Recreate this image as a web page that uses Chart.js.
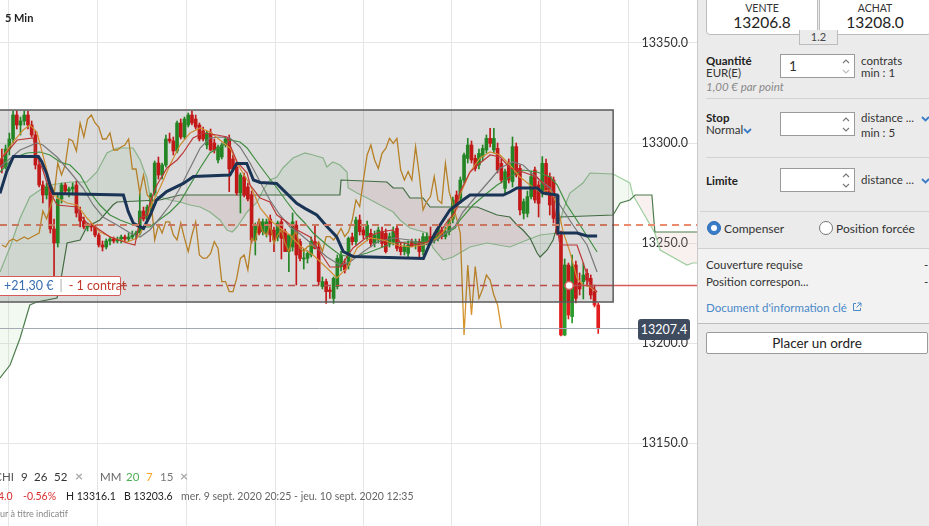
<!DOCTYPE html>
<html>
<head>
<meta charset="utf-8">
<script src="https://cdn.jsdelivr.net/npm/chart.js@4.4.1/dist/chart.umd.min.js"></script>
<style>
  html, body { margin: 0; padding: 0; width: 929px; height: 526px; overflow: hidden; background: #fff;
    font-family: Lato, "Open Sans", "Liberation Sans", sans-serif; color: #333; }
  .abs { position: absolute; white-space: nowrap; }
  #chartWrap { position: absolute; left: 0; top: 0; width: 697px; height: 526px; }
  #tf { left: 5px; top: 11px; font-size: 11px; font-weight: bold; color: #222; }
  .leg { font-size: 11.5px; line-height: 14px; }
  .row2 { font-size: 10.5px; line-height: 13px; top: 490px; }
  .x { color: #aaa; font-weight: bold; font-size: 14px; }
  #pnl { left: 697px; top: 0; width: 232px; height: 526px; background: #ebebeb; border-left: 1px solid #c9c9c9; box-sizing: border-box; font-size: 11.5px; color: #333; }
  .quote { top: -2px; width: 112px; height: 37px; background: #fff; border: 1px solid #bcbcbc; border-radius: 0 0 4px 4px; box-sizing: border-box; text-align: center; }
  .quote .t { font-size: 10.5px; margin-top: 3px; line-height: 12px; color: #333; }
  .quote .v { font-size: 15.5px; line-height: 17px; color: #222; }
  .inp { width: 75px; height: 24px; background: #fff; border: 1px solid #9a9a9a; box-sizing: border-box; font-size: 13.5px; line-height: 22px; padding-left: 8px; }
  .spin { position: absolute; right: 4px; top: 3px; }
  .sep { height: 1px; background: #d2d2d2; }
  .b { font-weight: bold; color: #222; }
  .radio { width: 14px; height: 14px; border-radius: 50%; box-sizing: border-box; }
  #lbl1 { left: -3px; top: 276px; height: 20px; width: 124px; background: #fff; border: 1px solid #d65a5a; border-radius: 2px; box-sizing: border-box; font-size: 12.5px; line-height: 18px; }
  #lbl2 { left: 638px; top: 319px; width: 52px; height: 21px; background: #3f4c5f; border-radius: 3px; color: #fff; font-size: 12.5px; line-height: 21px; text-align: center; }
</style>
</head>
<body>
<div id="chartWrap"><canvas id="c"></canvas></div>
<div id="tf" class="abs">5 Min</div>

<div id="lbl1" class="abs"><span style="color:#3a6db0;margin-left:6px">+21,30 €</span><span style="color:#aaa;margin:0 6px">|</span><span style="color:#c0392b">- 1 contrat</span></div>
<div id="lbl2" class="abs">13207.4</div>

<div class="abs leg" style="left:-40px;width:54px;text-align:right;top:470px;color:#555">CHI</div>
<div class="abs leg" style="left:21px;top:470px">9</div>
<div class="abs leg" style="left:34px;top:470px">26</div>
<div class="abs leg" style="left:54px;top:470px">52</div>
<div class="abs leg x" style="left:75px;top:469px">×</div>
<div class="abs leg" style="left:100px;top:470px;color:#666">MM</div>
<div class="abs leg" style="left:126px;top:470px;color:#4caf50">20</div>
<div class="abs leg" style="left:146px;top:470px;color:#f5a623">7</div>
<div class="abs leg" style="left:160px;top:470px;color:#777">15</div>
<div class="abs leg x" style="left:180px;top:469px">×</div>
<div class="abs row2" style="left:-2px;color:#d83030">4.0</div>
<div class="abs row2" style="left:23px;color:#d83030">-0.56%</div>
<div class="abs row2" style="left:66px;color:#222">H 13316.1</div>
<div class="abs row2" style="left:124px;color:#222">B 13203.6</div>
<div class="abs row2" style="left:181px;color:#666">mer. 9 sept. 2020 20:25 - jeu. 10 sept. 2020 12:35</div>
<div class="abs" style="left:0;top:508px;font-size:9px;color:#888">ur à titre indicatif</div>

<div id="pnl" class="abs">
  <div class="abs quote" style="left:8px"><div class="t">VENTE</div><div class="v">13206.8</div></div>
  <div class="abs quote" style="left:121px"><div class="t">ACHAT</div><div class="v">13208.0</div></div>
  <div class="abs" style="left:101px;top:30px;width:39px;height:15px;background:#ebebeb;border:1px solid #bcbcbc;border-top:none;box-sizing:border-box;text-align:center;font-size:11px;line-height:14px;color:#444">1.2</div>

  <div class="abs b" style="left:8px;top:54px">Quantité</div>
  <div class="abs" style="left:8px;top:66px">EUR(E)</div>
  <div class="abs" style="left:8px;top:80px;font-style:italic;color:#888">1,00 € par point</div>
  <div class="abs inp" style="left:82px;top:54px">1
    <svg class="spin" width="8" height="17"><path d="M1 5l3-3 3 3" stroke="#777" stroke-width="1.1" fill="none"/><path d="M1 12l3 3 3-3" stroke="#bbb" stroke-width="1.1" fill="none"/></svg></div>
  <div class="abs" style="left:163px;top:54px">contrats</div>
  <div class="abs" style="left:163px;top:66px">min : 1</div>
  <div class="abs sep" style="left:8px;top:98px;width:224px"></div>

  <div class="abs b" style="left:8px;top:111px">Stop</div>
  <div class="abs" style="left:8px;top:123px">Normal <svg width="9" height="6" style="margin-left:-3px"><path d="M1 1l3.5 3.5L8 1" stroke="#3a7cc7" stroke-width="1.8" fill="none"/></svg></div>
  <div class="abs inp" style="left:82px;top:112px">
    <svg class="spin" width="8" height="17"><path d="M1 5l3-3 3 3" stroke="#777" stroke-width="1.1" fill="none"/><path d="M1 12l3 3 3-3" stroke="#777" stroke-width="1.1" fill="none"/></svg></div>
  <div class="abs" style="left:163px;top:111px">distance ...</div>
  <svg class="abs" style="left:223px;top:116px" width="9" height="6"><path d="M1 1l3.5 3.5L8 1" stroke="#3a7cc7" stroke-width="1.8" fill="none"/></svg>
  <div class="abs" style="left:163px;top:126px">min : 5</div>
  <div class="abs sep" style="left:8px;top:157px;width:224px"></div>

  <div class="abs b" style="left:8px;top:174px">Limite</div>
  <div class="abs inp" style="left:82px;top:168px">
    <svg class="spin" width="8" height="17"><path d="M1 5l3-3 3 3" stroke="#777" stroke-width="1.1" fill="none"/><path d="M1 12l3 3 3-3" stroke="#777" stroke-width="1.1" fill="none"/></svg></div>
  <div class="abs" style="left:163px;top:173px">distance ...</div>
  <svg class="abs" style="left:223px;top:178px" width="9" height="6"><path d="M1 1l3.5 3.5L8 1" stroke="#3a7cc7" stroke-width="1.8" fill="none"/></svg>
  <div class="abs sep" style="left:2px;top:211px;width:230px"></div>

  <div class="abs radio" style="left:9px;top:221px;background:#3a7cc7;border:1px solid #2f6db5"><div style="width:6px;height:6px;border-radius:50%;background:#fff;margin:3px"></div></div>
  <div class="abs" style="left:26px;top:221px;font-size:12px">Compenser</div>
  <div class="abs radio" style="left:121px;top:221px;background:#fff;border:1px solid #777"></div>
  <div class="abs" style="left:138px;top:221px;font-size:12px">Position forcée</div>

  <div class="abs" style="left:0;top:248px;width:232px;height:74px;background:#f2f2f2;border-top:1px solid #cfcfcf;border-bottom:1px solid #bdbdbd"></div>
  <div class="abs" style="left:8px;top:258px">Couverture requise</div>
  <div class="abs" style="left:226px;top:258px">-</div>
  <div class="abs" style="left:8px;top:275px">Position correspon...</div>
  <div class="abs" style="left:226px;top:275px">-</div>
  <div class="abs" style="left:8px;top:301px;color:#4a89c9">Document d'information clé
    <svg width="10" height="10" style="margin-left:2px"><path d="M4 1.5H1.5v7h7V6" stroke="#4a89c9" stroke-width="1" fill="none"/><path d="M5.5 1H9v3.5M9 1L4.5 5.5" stroke="#4a89c9" stroke-width="1" fill="none"/></svg></div>

  <div class="abs" style="left:8px;top:332px;width:222px;height:22px;background:#fff;border:1px solid #9a9a9a;border-radius:2px;box-sizing:border-box;text-align:center;font-size:13.5px;line-height:20px;color:#222">Placer un ordre</div>
</div>

<script>
// candles, index = 5 min bar
const opens = [13292,13288,13297,13302,13314,13309,13311,13314,13309,13304,13289,13279,13274,13278,13257,13250,13272,13279,13276,13277,
  13279,13265,13261,13258,13259,13258,13254,13249,13248,13251,13252,13251,13252,13253,13252,13253,13254,13255,13266,13262,
  13268,13275,13290,13284,13289,13302,13301,13296,13310,13303,13309,13314,13312,13309,13306,13299,13305,13300,13291.5,13293,
  13299,13302,13292,13288,13275,13283,13278,13274,13251.5,13260.6,13255.7,13255,13262,13256.5,13253,13260.6,13255.7,13245.7,13248,13259,
  13250.7,13242,13242.3,13244,13250.7,13248,13228.2,13230.7,13226.5,13222.3,13228.2,13238.2,13239.8,13239,13253,13250.7,13261.5,13256.5,13253,13254.8,
  13249.8,13251.5,13255.7,13254.8,13249.8,13250.7,13257.3,13248,13245.7,13244.8,13250.7,13249,13250.7,13245.7,13250.7,13253.2,13251.5,13252.3,13256.5,13253.2,
  13255.7,13262,13274,13272.3,13281.5,13292.3,13299,13292.3,13289,13293.2,13296.5,13302.3,13296.5,13297.3,13289.8,13277.3,13289.8,13280.7,13298.2,13287.3,
  13264.8,13264.8,13273.2,13286.5,13279,13274.8,13289.8,13283.2,13281.5,13262.3,13254,13204,13239,13213.2,13239,13230,13230.7,13234.8,13232.3,13225.7,
  13219];
const highs = [13297,13299,13305,13316,13316,13313,13316,13316,13311,13306,13291,13281,13280,13279,13262,13274,13280,13280,13278,13280,
  13281,13268,13263,13260,13260,13259,13255,13251,13252,13253,13253,13253,13254,13254,13255,13256,13256,13275,13268,13269,
  13275,13291,13293,13290,13304,13305,13303,13311,13312,13313,13315,13316,13314,13310,13308,13306,13307,13302,13299,13300,
  13303,13304,13294,13290,13285,13285,13280,13276,13260,13262,13262,13262,13264,13258,13261,13262,13257,13254,13265,13261,
  13252,13247,13246,13253,13259,13250,13233,13232,13228,13233,13244,13246,13242,13253,13255,13263,13264,13258,13261,13257,
  13256,13258,13258,13257,13255,13258,13259,13250,13250,13251,13252,13252,13252,13255,13255,13258,13255,13258,13258,13258,
  13262,13273,13276,13283,13295,13302.3,13301,13294,13297,13299,13304,13307.3,13307.3,13300,13292,13287,13292,13303,13300,13289,
  13272,13276,13286,13288,13281,13293.2,13292,13285,13283,13264,13256,13242,13240,13244,13241,13235,13240,13237,13234,13229,
  13220];
const lows = [13285,13287,13294,13300,13307,13304,13309,13307,13303,13287,13278,13270,13272,13255,13226,13248,13270,13275,13273,13274,
  13263,13258,13257,13256,13256,13253,13248,13246,13247,13249,13250,13250,13250,13251,13251,13252,13252,13254,13261,13261,
  13264,13274,13282,13282,13288,13300,13294,13295,13302,13302,13308,13309,13307,13301,13301,13297,13296,13295,13290,13292,
  13298,13275.7,13286,13274,13265,13273,13271,13250,13244,13254,13254,13253,13250.6,13245.7,13251,13242,13245.7,13235.7,13246,13229,
  13241,13237,13240,13243,13247,13229,13227,13219.8,13222.3,13219.8,13227,13236,13235,13237,13249,13249,13254,13252,13251,13248,
  13248,13250,13248,13245,13248,13249,13246,13244,13244,13243,13248,13247,13242,13244,13249,13250,13250,13251,13252,13252,
  13254,13260,13267,13270,13280,13290,13290,13286,13287,13291,13295,13298,13295,13285,13280,13275,13280,13278,13283,13264,
  13262,13263,13272,13270,13263,13273,13274,13264,13260,13254,13203.6,13203.6,13212,13210,13220,13224,13222,13229,13222,13218,
  13204.8];
const closes = [13288,13297,13302,13314,13309,13311,13314,13309,13304,13289,13279,13274,13278,13257,13250,13272,13279,13276,13277,13278,
  13265,13261,13258,13259,13258,13254,13249,13248,13251,13252,13251,13252,13253,13252,13253,13254,13255,13266,13262,13268,
  13274,13290,13284,13289,13302,13301,13296,13310,13303,13312,13314,13310,13308,13302,13302,13305,13296.5,13296.5,13298,13299,
  13302,13287,13287,13275,13284,13274,13272,13251.5,13259,13255,13260.6,13260.6,13254,13251.5,13260,13252.3,13245.7,13254,13260.6,13244,
  13242.3,13242.5,13244.8,13250.7,13247.3,13230.7,13230.7,13225.7,13225.7,13232.3,13242.3,13244,13236.5,13252.3,13250.7,13261.5,13255.7,13254,13259,13249.8,
  13254,13256.5,13249.8,13245.7,13253.2,13255.7,13247.3,13245.7,13248.2,13249,13248.2,13250.7,13245.7,13253.2,13253.2,13251.5,13254,13257.3,13253.2,13255.7,
  13261.5,13271.5,13268.2,13281.5,13294,13299,13291.5,13287.3,13294.8,13297.3,13302.3,13299.8,13302.3,13286.5,13281.5,13285.7,13281.5,13298.2,13284,13266.5,
  13270.7,13273.2,13283.2,13271.5,13269.8,13289.8,13275.7,13269,13262.3,13254.8,13204,13239,13214,13238.2,13222.3,13227,13234,13231.5,13224,13219,
  13207.4];

// indicator lines: [bar index, price]
const tenkan = [[-0.5,13291.5],[1.4,13295.5],[4.1,13301.5],[8.4,13302.5],[9.4,13293],[10.8,13287.5],[12.9,13275.5],[14.8,13269],[20.2,13268],[21,13264],
  [22.8,13260],[25.5,13257.5],[29,13253],[33.6,13250],[35.7,13249],[37.1,13262.5],[38.9,13264],[39.7,13270],[41.6,13279],[44.3,13287.5],
  [47,13291.5],[48.6,13295],[51.3,13302.5],[54,13305],[57.7,13304],[60.4,13303],[61.2,13299],[63.1,13290.5],[65.8,13285],[66.6,13279],
  [69.3,13272.5],[71.9,13270.5],[73.8,13264],[76.5,13260.5],[79.2,13256.5],[82.7,13253],[88,13238],[90.7,13238],[94.2,13247.5],[98,13253],
  [101.5,13255.5],[105,13256.5],[106.8,13250.5],[110.3,13249],[114.1,13250.5],[117.6,13255.5],[119.4,13260.5],[121.6,13265.5],[122.9,13275.5],[125.6,13285.5],
  [128.3,13290],[131,13294],[133.7,13293],[136.3,13287.5],[139.8,13285.5],[143.6,13283],[146.3,13277.5],[147.9,13272.5],[149.7,13249],[154.3,13249],
  [155.9,13240.5],[157.8,13229],[159.7,13225.5]];
const kijun = [[-0.5,13274.8],[1.3,13285.7],[3.1,13293.2],[9.8,13293.2],[10.7,13290.7],[12,13284.8],[12.9,13279],[13.8,13274.8],[32.6,13274],[33.9,13265.7],
  [35.3,13259.8],[38,13257.3],[39.8,13264],[41.5,13271.5],[44.2,13275.7],[48.7,13279.8],[51.4,13283.2],[61.2,13284],[63,13289.8],[65.7,13289.8],
  [67.5,13281.5],[69.3,13280.3],[73.7,13279.8],[76.4,13274.8],[79.1,13269.8],[81.3,13267.3],[84.5,13264],[87.2,13258.2],[89.8,13253.2],[91.6,13245.7],
  [94.3,13243.2],[113.1,13242.3],[114.9,13250],[116.7,13256.5],[120.2,13266.5],[123.7,13271.5],[125.6,13274],[134.5,13274],[136.3,13275.5],[138.2,13277.5],
  [143.6,13277.5],[145.2,13275],[149,13274],[149.2,13255],[154.3,13255],[157,13253.5],[159.7,13253.5]];
const senkouA = [[-0.5,13235.5],[2.2,13248],[4.9,13262.5],[7.5,13273],[11,13277.5],[12.9,13279],[18.3,13280.5],[22.8,13280.5],[25.5,13285.5],[28.2,13295],
  [30.9,13297.5],[35.2,13297.5],[37.1,13291.5],[38.9,13282.5],[39.7,13274],[42.4,13273],[45.1,13271.5],[47.8,13270.5],[50.5,13269],[53.2,13268],
  [55.8,13265.5],[58.5,13261.5],[60.4,13256.5],[61.8,13255.5],[63.1,13258],[65.8,13265.5],[68.5,13270.5],[70.1,13276.5],[71.9,13281.5],[73.8,13283],
  [75.4,13287.5],[78.1,13292.5],[81.3,13295],[83.5,13294],[86.2,13292.5],[87.2,13288],[88.8,13290.5],[90.7,13289],[92.6,13285.5],[92.9,13277.5],
  [95.3,13275],[98,13272.5],[101.5,13269],[105,13265.5],[106.8,13261.5],[109.5,13257.5],[114.1,13255],[115.7,13247.5],[118.4,13241.5],[121,13243],
  [125.6,13248],[130.2,13250],[136.3,13248],[140.9,13251.5],[144.4,13254],[149,13255],[150.6,13266.5],[152.4,13275],[155.9,13280],[157.8,13285],
  [164,13284.5],[168.5,13280],[169.3,13274],[175.2,13255],[176.6,13246.5],[183.8,13239],[185.4,13240],[186.5,13240]];
const senkouB = [[-0.5,13182.5],[2.2,13189],[4.9,13202.5],[7.5,13219],[9.4,13220.5],[14.8,13222.5],[15.6,13229],[17.5,13250],[21,13251.5],[22.8,13258],
  [26.3,13261.5],[29.8,13269],[30.9,13270.5],[42.4,13271.5],[47.8,13274],[90.7,13274],[91,13281.5],[103.3,13280.5],[105,13277.5],[107.6,13277.5],
  [109.5,13272.5],[113,13272.5],[114.9,13268],[127.5,13268],[132.9,13264],[136.3,13263],[138.2,13259],[139.8,13256.5],[141.7,13252.5],[143.6,13245],
  [144.4,13243],[146.3,13246.5],[147.9,13251.5],[149.7,13263],[164,13264],[165.9,13270],[168.5,13271.5],[169.9,13274],[174.4,13274],[175.2,13255.5],
  [186.5,13255.5]];
const mm7 = [[-0.5,13291.5],[3,13300.5],[5.7,13306.5],[7.5,13309],[9.4,13305.5],[11,13294],[12.9,13280.5],[14.8,13272.5],[17.5,13270],[20.2,13269],
  [22.8,13262.5],[26.3,13255.5],[29.8,13252.5],[33.6,13250.5],[36.3,13252.5],[38.9,13260.5],[39.7,13267.5],[42.4,13277.5],[45.1,13289],[47.8,13299],
  [50.5,13305],[53.2,13307.5],[55.8,13305.5],[58.5,13301.5],[61.2,13297.5],[63.9,13287.5],[66.6,13279],[69.3,13267.5],[71.9,13261.5],[74.6,13257.5],
  [77.3,13254],[80,13248.5],[83.5,13244],[87.2,13237.5],[89.9,13232.5],[92.6,13237.5],[95.3,13247.5],[98.8,13252.5],[102.3,13251.5],[106,13249],
  [109.5,13248],[113,13249],[116.8,13252.5],[119.4,13257.5],[121.6,13265],[122.9,13274],[125.6,13285.5],[128.3,13292.5],[131,13295.5],[133.7,13294],
  [136.3,13289],[139,13283],[141.7,13279],[144.4,13275.5],[147.1,13276.5],[149,13269],[150.6,13255.5],[152.4,13245.5],[154.3,13232.5],[155.9,13229],
  [157.8,13228],[159.7,13225.5]];
const mm15 = [[-0.5,13288],[4.9,13296.5],[9.4,13300],[11,13299],[14.8,13293],[18.3,13285.5],[21.8,13277.5],[24.5,13269],[27.1,13263],[30.9,13259],
  [34.4,13255],[37.1,13253],[39.7,13256.5],[42.4,13262.5],[45.1,13269],[47.8,13277.5],[50.5,13287.5],[53.2,13297.5],[55.8,13302.5],[58.5,13303],
  [61.2,13302.5],[63.9,13298],[66.6,13290],[69.3,13280.5],[71.9,13271.5],[74.6,13264],[77.3,13258],[80,13254.5],[83.5,13249],[87.2,13243],
  [90.7,13239],[93.4,13240.5],[96.9,13245.5],[100.7,13250.5],[105,13252.5],[109.5,13251.5],[113,13249],[115.7,13250.5],[118.4,13254],[121.6,13258.5],
  [123.7,13265.5],[127.5,13274],[131,13281.5],[133.7,13287.5],[137.1,13290.5],[139.8,13289],[143.6,13282.5],[147.1,13277.5],[149.7,13269],[153.2,13259],
  [157,13249],[159.7,13235.5]];
const mm20 = [[-0.5,13285.5],[3,13292.5],[6.7,13295],[10.2,13295.5],[12.9,13294],[15.6,13290.5],[18.3,13289],[21,13284],[23.6,13275.5],[26.3,13269],
  [29,13264],[31.7,13261.5],[35.2,13259],[37.9,13258],[39.7,13258],[45.1,13265.5],[47.8,13270.5],[50.5,13279],[53.2,13287.5],[55.8,13295],
  [58.5,13298],[61.2,13301.5],[63.9,13300.5],[65.8,13297.5],[68.5,13290.5],[71.1,13284],[73.8,13277.5],[76.5,13270.5],[79.2,13264],[81.3,13260],
  [83.5,13255],[87.2,13249],[90.7,13244],[94.2,13243],[98,13245],[101.5,13247.5],[105,13250],[108.7,13250.5],[112.2,13250.5],[115.7,13251.5],
  [118.4,13254],[121.6,13257.5],[122.9,13261.5],[126.4,13269],[130.2,13275],[132.9,13279],[136.3,13283],[139.8,13286.5],[143.6,13285.5],[147.1,13283],
  [149,13279],[151.6,13269],[155.1,13259],[159.7,13245.5]];
const chikouShift = 26;

// axis and levels
const xRange = [-0.5, 186.5];
const yRange = [13108.5, 13371.5];
const yTicks = [13150, 13200, 13250, 13300, 13350];
const hourMarks = [13.7, 37.6, 61.5, 85.1, 108.7, 132.6, 156.2, 179.8];
const rangeBox = [-2, 164, 13316.5, 13220.5];
const stopLevel = 13259;
const entryLevel = 13228.7;
const entryBar = 152.2;
const lastPrice = 13207.4;

const upColor = '#2b9b2b', downColor = '#e21d1d';
const candleColors = closes.map((c, i) => c >= opens[i] ? upColor : downColor);
const pts = arr => arr.map(p => ({x: p[0], y: p[1]}));
const lineDs = (label, arr, color, width, order, extra) => Object.assign({
  type: 'line', label, data: pts(arr), borderColor: color, borderWidth: width,
  pointRadius: 0, tension: 0, fill: false, order
}, extra || {});

const overlay = {
  id: 'overlay',
  afterDatasetsDraw(chart) {
    const {ctx, chartArea: a, scales: {x, y}} = chart;
    ctx.save();
    // stop level
    let py = y.getPixelForValue(stopLevel);
    ctx.setLineDash([7, 5]);
    ctx.strokeStyle = '#ea8b6e';
    ctx.lineWidth = 2;
    ctx.beginPath(); ctx.moveTo(a.left, py); ctx.lineTo(a.right, py); ctx.stroke();
    // entry level
    const ey = y.getPixelForValue(entryLevel);
    const ex = x.getPixelForValue(entryBar);
    ctx.strokeStyle = '#d65a5a';
    ctx.lineWidth = 1.5;
    ctx.beginPath(); ctx.moveTo(a.left, ey); ctx.lineTo(ex, ey); ctx.stroke();
    ctx.setLineDash([]);
    ctx.beginPath(); ctx.moveTo(ex, ey); ctx.lineTo(a.right, ey); ctx.stroke();
    // last price
    py = Math.round(y.getPixelForValue(lastPrice)) + 0.5;
    ctx.strokeStyle = '#a2aab4';
    ctx.lineWidth = 1;
    ctx.beginPath(); ctx.moveTo(a.left, py); ctx.lineTo(a.right - 58, py); ctx.stroke();
    // range box
    const x0 = x.getPixelForValue(rangeBox[0]), x1 = x.getPixelForValue(rangeBox[1]);
    const y0 = y.getPixelForValue(rangeBox[2]), y1 = y.getPixelForValue(rangeBox[3]);
    ctx.fillStyle = 'rgba(0,0,0,0.14)';
    ctx.fillRect(x0, y0, x1 - x0, y1 - y0);
    ctx.strokeStyle = '#5a5a5a';
    ctx.lineWidth = 1.5;
    ctx.strokeRect(x0, y0, x1 - x0, y1 - y0);
    // entry marker
    ctx.beginPath();
    ctx.arc(ex, ey, 4, 0, Math.PI * 2);
    ctx.fillStyle = '#fff';
    ctx.fill();
    ctx.strokeStyle = '#d65a5a';
    ctx.lineWidth = 1.5;
    ctx.stroke();
    ctx.restore();
  }
};

new Chart(document.getElementById('c'), {
  type: 'line',
  data: {
    datasets: [
      lineDs('Senkou B', senkouB, '#4d7d4d', 1.2, 9),
      lineDs('Senkou A', senkouA, '#9fcf9f', 1.2, 9, {
        fill: {target: 0, above: 'rgba(150,205,150,0.13)', below: 'rgba(220,160,160,0.16)'}
      }),
      {
        type: 'bar', label: 'wick', order: 8, grouped: false, barThickness: 1,
        data: opens.map((o, i) => ({x: i, y: [lows[i], highs[i]]})),
        backgroundColor: candleColors, borderWidth: 0
      },
      {
        type: 'bar', label: 'body', order: 7, grouped: false, barThickness: 3, minBarLength: 1,
        data: opens.map((o, i) => ({x: i, y: [o, closes[i]]})),
        backgroundColor: candleColors, borderWidth: 0
      },
      {
        type: 'line', label: 'Chikou', order: 6, pointRadius: 0, tension: 0, fill: false,
        borderColor: '#d4952e', borderWidth: 1.3,
        data: closes.slice(chikouShift).map((c, j) => ({x: j, y: c}))
      },
      lineDs('MM 20', mm20, '#4aa64a', 1.2, 5),
      lineDs('MM 15', mm15, '#8c8c8c', 1.2, 4),
      lineDs('MM 7', mm7, '#f3a33a', 1.2, 3),
      lineDs('Tenkan', tenkan, '#dc4040', 1.2, 2),
      lineDs('Kijun', kijun, '#1f3d63', 3, 1)
    ]
  },
  options: {
    responsive: true,
    maintainAspectRatio: false,
    animation: false,
    events: [],
    layout: {padding: 0},
    plugins: {legend: {display: false}, tooltip: {enabled: false}},
    scales: {
      x: {
        type: 'linear', min: xRange[0], max: xRange[1], offset: false,
        afterBuildTicks: s => { s.ticks = hourMarks.map(v => ({value: v})); },
        ticks: {display: false},
        grid: {color: '#e6e6e6', drawTicks: false},
        border: {display: false}
      },
      y: {
        type: 'linear', position: 'right', min: yRange[0], max: yRange[1],
        afterBuildTicks: s => { s.ticks = yTicks.map(v => ({value: v})); },
        afterFit: s => { s.width = 0; s.paddingTop = 0; s.paddingBottom = 0; },
        ticks: {
          mirror: true, padding: -9, color: '#333',
          font: {family: 'Lato', size: 12.5},
          callback: v => Number(v).toFixed(1)
        },
        grid: {color: '#e6e6e6', drawTicks: false},
        border: {display: false}
      }
    }
  },
  plugins: [overlay]
});
</script>
</body>
</html>
